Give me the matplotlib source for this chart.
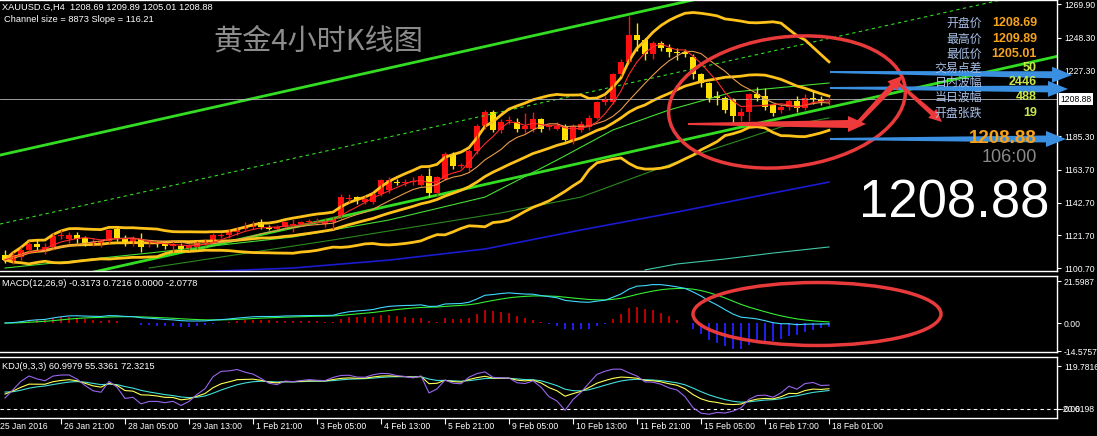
import numpy as np
import pandas as pd
import matplotlib
matplotlib.use("Agg")
import matplotlib.pyplot as plt
from matplotlib.patches import Ellipse, Polygon

plt.rcParams["font.family"] = ["Liberation Sans", "Noto Sans CJK SC", "DejaVu Sans"]

# ── XAUUSD H4 candles ────────────────────────────────────────────────────────
opens = np.array([
    1109, 1105, 1108, 1112, 1116, 1112, 1114, 1121, 1119, 1122,
    1120, 1117, 1116, 1118, 1126, 1120, 1117, 1119, 1116, 1117,
    1116, 1115, 1115, 1113, 1114, 1117, 1117, 1121, 1122, 1124,
    1126, 1127, 1130, 1127, 1126, 1127, 1128, 1129, 1130, 1130,
    1129, 1130, 1134, 1145, 1146, 1143, 1143, 1148, 1151, 1156,
    1155, 1156, 1154, 1160, 1149, 1158, 1173, 1166, 1165, 1176,
    1192, 1201, 1189, 1195, 1194, 1190, 1190, 1196, 1191, 1190,
    1192, 1182, 1189, 1191, 1197, 1207, 1207, 1225, 1233, 1250,
    1247, 1238, 1245, 1242, 1239, 1239, 1236, 1225, 1219, 1211,
    1210, 1209, 1198, 1201, 1212, 1211, 1205, 1202, 1204, 1208,
    1203, 1210, 1209, 1208.69])
highs = np.array([
    1112, 1111, 1114, 1118, 1119, 1117, 1123, 1125, 1124, 1124,
    1121, 1120, 1119, 1126, 1127, 1122, 1121, 1123, 1118, 1118,
    1117, 1118, 1117, 1116, 1118, 1119, 1123, 1123, 1126, 1127,
    1130, 1131, 1132, 1128, 1128, 1131, 1132, 1131, 1132, 1133,
    1133, 1134, 1148, 1148, 1147, 1147, 1149, 1158, 1159, 1158,
    1158, 1159, 1161, 1165, 1160, 1175, 1175, 1168, 1177, 1193,
    1202, 1202, 1196, 1198, 1197, 1200, 1201, 1197, 1193, 1194,
    1193, 1193, 1195, 1199, 1208, 1211, 1226, 1235, 1262, 1258,
    1248, 1246, 1246, 1244, 1242, 1241, 1238, 1226, 1220, 1214,
    1211, 1210, 1203, 1213, 1217, 1216, 1206, 1205, 1209, 1211,
    1212, 1214, 1211, 1209.89])
lows = np.array([
    1104, 1103, 1106, 1111, 1112, 1110, 1112, 1119, 1117, 1117,
    1115, 1115, 1114, 1117, 1118, 1115, 1115, 1111, 1114, 1114,
    1113, 1111, 1111, 1112, 1113, 1115, 1116, 1120, 1120, 1122,
    1125, 1126, 1126, 1125, 1125, 1126, 1124, 1128, 1129, 1128,
    1127, 1126, 1132, 1143, 1142, 1142, 1142, 1147, 1149, 1154,
    1153, 1154, 1153, 1146, 1147, 1157, 1164, 1165, 1163, 1174,
    1190, 1188, 1187, 1193, 1188, 1187, 1188, 1188, 1189, 1189,
    1182, 1180, 1188, 1189, 1196, 1205, 1206, 1224, 1232, 1240,
    1234, 1235, 1240, 1236, 1234, 1236, 1222, 1217, 1207, 1205,
    1200, 1193, 1195, 1195, 1208, 1202, 1198, 1200, 1202, 1201,
    1202, 1206, 1205, 1205.01])
closes = np.array([
    1106, 1109, 1112, 1116, 1114, 1114, 1121, 1122, 1122, 1119,
    1117, 1117.5, 1118, 1125, 1120, 1117, 1120, 1114, 1117, 1116,
    1115, 1116, 1113, 1115, 1117, 1118, 1122, 1122, 1124, 1126,
    1127, 1128, 1127, 1126, 1127, 1130, 1129, 1130, 1130.5, 1131,
    1131, 1133, 1146, 1145.5, 1144, 1145, 1148, 1157, 1157, 1155,
    1156, 1156.5, 1160, 1149, 1159, 1174, 1166, 1167, 1176, 1192,
    1201, 1189, 1194, 1195.5, 1190, 1192, 1196, 1190, 1192, 1192,
    1183, 1192, 1193, 1197, 1207, 1209, 1225, 1233, 1250, 1247,
    1238, 1245, 1242, 1239, 1238.5, 1238, 1225, 1219, 1210, 1210,
    1202, 1198, 1201, 1212, 1210, 1204, 1200, 1204, 1208, 1203,
    1210, 1209, 1208, 1208.88])
last_price = 1208.88

# slow moving averages (their history lies before the window, so read as points)
lime_bars = [0, 18, 36, 48, 60, 69, 76, 83, 91, 103]
lime_vals = [1100.7, 1110.3, 1120.6, 1131.5, 1146.2, 1169.9, 1189.2, 1202.0, 1213.5, 1219.3]
dkgreen_bars = [18, 41, 62, 72, 87, 97, 103]
dkgreen_vals = [1100.7, 1118.7, 1136.0, 1146.2, 1174.4, 1191.1, 1196.9]
blue_bars = [24, 36, 48, 60, 72, 84, 96, 103]
blue_vals = [1098.2, 1100.7, 1105.8, 1112.9, 1125.1, 1136.6, 1148.8, 1155.8]
teal_bars = [80, 84, 90, 96, 103]
teal_vals = [1099.5, 1103.3, 1106.5, 1110.3, 1114.2]

# regression channel: mid value at bar 0, slope per bar, half width
chan_mid0, chan_slope, chan_half = 1129.6, 1.148, 44.2

price_ticks = [1269.90, 1248.30, 1227.30, 1185.30, 1163.70, 1142.70, 1121.70, 1100.70]
time_bars = [7, 15, 23, 31, 39, 47, 55, 63, 71, 79, 87, 95, 103]
time_labels = ["26 Jan 21:00", "28 Jan 05:00", "29 Jan 13:00", "1 Feb 21:00",
               "3 Feb 05:00", "4 Feb 13:00", "5 Feb 21:00", "9 Feb 05:00",
               "10 Feb 13:00", "11 Feb 21:00", "15 Feb 05:00", "16 Feb 17:00",
               "18 Feb 01:00"]

info_labels = ["开盘价", "最高价", "最低价", "交易点差", "日内波幅", "当日波幅", "开盘张跌"]
info_values = ["1208.69", "1209.89", "1205.01", "50", "2446", "488", "19"]

RED = "#ff1010"
YEL = "#ffe000"
GOLD = "#ffc21a"
LIME = "#33dd22"

# ── indicators from the candles ──────────────────────────────────────────────
s = pd.Series(closes)
ma5 = s.rolling(5, min_periods=1).mean()
ma10 = s.rolling(10, min_periods=1).mean()
bb_mid = s.rolling(20, min_periods=1).mean()
bb_sd = s.rolling(20, min_periods=1).std(ddof=0)
macd = s.ewm(span=12, adjust=False).mean() - s.ewm(span=26, adjust=False).mean()
signal = macd.ewm(span=9, adjust=False).mean()
hist = 2 * (macd - signal)

llv = pd.Series(lows).rolling(9, min_periods=1).min()
hhv = pd.Series(highs).rolling(9, min_periods=1).max()
rsv = ((s - llv) / (hhv - llv) * 100).values
K = np.zeros(len(rsv))
D = np.zeros(len(rsv))
k_prev, d_prev = 50.0, 50.0
for i, r in enumerate(rsv):
    k_prev = 2 / 3 * k_prev + r / 3
    d_prev = 2 / 3 * d_prev + k_prev / 3
    K[i], D[i] = k_prev, d_prev
J = 3 * K - 2 * D

# ── figure ───────────────────────────────────────────────────────────────────
W, H = 1097, 436
fig = plt.figure(figsize=(W / 100, H / 100), dpi=100, facecolor="black")
XMIN, XMAX = -0.625, 131.5


def panel(top, bottom):
    a = fig.add_axes([0, 1 - bottom / H, 1057 / W, (bottom - top) / H])
    a.set_facecolor("black")
    a.set_xlim(XMIN, XMAX)
    for side in ("top", "bottom", "right"):
        a.spines[side].set_color("white")
        a.spines[side].set_linewidth(1)
    a.spines["left"].set_visible(False)
    a.yaxis.tick_right()
    a.tick_params(axis="y", colors="white", labelsize=6.2, length=3, width=0.8, pad=2)
    a.set_xticks([])
    return a


ax = panel(0, 271)
am = panel(276, 352)
ak = panel(357, 418)

bars = np.arange(len(closes))

# main panel
ax.set_ylim(1098.8, 1272.5)
xs = np.array([XMIN, XMAX])
ax.plot(xs, chan_mid0 + chan_slope * xs + chan_half, color=LIME, lw=2)
ax.plot(xs, chan_mid0 + chan_slope * xs - chan_half, color=LIME, lw=2)
ax.plot(xs, chan_mid0 + chan_slope * xs, color=LIME, lw=0.8, ls=(0, (3, 3)))
ax.plot(blue_bars, blue_vals, color="#1a1ad0", lw=1.2)
ax.plot(teal_bars, teal_vals, color="#40c8a8", lw=0.8)
ax.plot(dkgreen_bars, dkgreen_vals, color="#2a8a1e", lw=0.8)
ax.plot(lime_bars, lime_vals, color="#44dd33", lw=0.8)
ax.plot(bars, bb_mid + 2 * bb_sd, color=GOLD, lw=2)
ax.plot(bars, bb_mid, color=GOLD, lw=2)
ax.plot(bars, bb_mid - 2 * bb_sd, color=GOLD, lw=2)
ax.axhline(last_price, color="#b8b8b8", lw=0.6)

col = np.where(closes >= opens, RED, YEL)
ax.vlines(bars, lows, highs, colors=col, lw=1)
ax.bar(bars, np.maximum(np.abs(closes - opens), 0.6), bottom=np.minimum(opens, closes),
       width=0.65, color=col, lw=0)
ax.plot(bars, ma10, color="#e89a4a", lw=0.8)
ax.plot(bars, ma5, color="#ff2a2a", lw=0.8)

ax.set_yticks(price_ticks, [f"{p:.2f}" for p in price_ticks])
ax.text(1.003, last_price, f"{last_price:.2f}", transform=ax.get_yaxis_transform(),
        ha="left", va="center", fontsize=6.2, color="black", clip_on=False,
        bbox=dict(boxstyle="square,pad=0.15", fc="white", ec="none"))

# MACD panel
am.set_ylim(-14.9, 24.2)
hcol = np.where(hist >= 0, "#c80000", "#2222ff")
am.vlines(bars, 0, hist, colors=hcol, lw=1.3)
am.plot(bars, signal, color="#33ee33", lw=0.8)
am.plot(bars, macd, color="#40d8ff", lw=0.8)
am.set_yticks([21.5987, 0, -14.5757], ["21.5987", "0.00", "-14.5757"])

# KDJ panel
ak.set_ylim(-25.1, 144.9)
ak.axhline(0, color="white", lw=0.8, ls=(0, (3, 3)))
ak.plot(bars, D, color="#40e0d8", lw=0.8)
ak.plot(bars, K, color="#ffff55", lw=0.8)
ak.plot(bars, J, color="#9966ee", lw=0.8)
ak.set_yticks([119.7816, 0], ["119.7816", "0.00"])
ak.text(1.003, -1.5, "-20.6198", transform=ak.get_yaxis_transform(), ha="left",
        va="center", fontsize=6.2, color="white", clip_on=False)
ak.set_xticks(time_bars)
ak.tick_params(axis="x", colors="white", length=4, width=0.8, labelbottom=False)
for b, lab in zip(time_bars, time_labels):
    ak.text(b + 0.35, -0.06, lab, transform=ak.get_xaxis_transform(), ha="left",
            va="top", fontsize=6.2, color="white", clip_on=False)
ak.text(-1 + 0.35, -0.06, "25 Jan 2016", transform=ak.get_xaxis_transform(),
        ha="left", va="top", fontsize=6.2, color="white", clip_on=False)

# ── text and hand-drawn marks (pixel overlay) ────────────────────────────────
ov = fig.add_axes([0, 0, 1, 1], zorder=10)
ov.set_xlim(0, W)
ov.set_ylim(H, 0)
ov.axis("off")
ov.patch.set_alpha(0)

ov.text(2, 7, "XAUUSD.G,H4  1208.69 1209.89 1205.01 1208.88", color="white",
        fontsize=6.7, va="center")
ov.text(4, 19, "Channel size = 8873 Slope = 116.21", color="white", fontsize=6.7, va="center")
ov.text(2, 283, "MACD(12,26,9) -0.3173 0.7216 0.0000 -2.0778", color="white",
        fontsize=6.7, va="center")
ov.text(2, 366, "KDJ(9,3,3) 60.9979 55.3361 72.3215", color="white", fontsize=6.7, va="center")
ov.text(213, 42, "黄金4小时K线图", color="#8c8c8c", fontsize=21, va="center",
        family=["Noto Sans CJK SC", "DejaVu Sans"])

rows_y = [23, 39, 54, 68, 82, 97, 113]
for k, (lab, val, y) in enumerate(zip(info_labels, info_values, rows_y)):
    ov.text(982, y, lab, color="#a9bfe6", fontsize=8.6, ha="right", va="center",
            family=["Noto Sans CJK SC", "DejaVu Sans"])
    ov.text(1037, y, val, color="#f5a21c" if k < 3 else "#c8e84a", fontsize=9,
            fontweight="bold", ha="right", va="center")
ov.text(1037, 138, "1208.88", color="#f5a21c", fontsize=13.5, fontweight="bold",
        ha="right", va="center")
ov.text(1037, 157, "106:00", color="#8a8a8a", fontsize=13, ha="right", va="center")
ov.text(954, 203, "1208.88", color="white", fontsize=38, ha="center", va="center")


def taper_arrow(x0, y0, x1, y1, w0, w1, hw, hl, color):
    p0, p1 = np.array([x0, y0], float), np.array([x1, y1], float)
    d = (p1 - p0) / np.hypot(*(p1 - p0))
    n = np.array([-d[1], d[0]])
    pb = p1 - d * hl
    pts = [p0 + n * w0, pb + n * w1, pb + n * hw, p1, pb - n * hw, pb - n * w1, p0 - n * w0]
    ov.add_patch(Polygon(pts, closed=True, fc=color, ec="none"))


ov.add_patch(Ellipse((787, 102), 238, 130, angle=-7, fc="none", ec="#e83a3a", lw=2.5))
ov.add_patch(Ellipse((817, 314), 248, 63, angle=0, fc="none", ec="#e83a3a", lw=2.5))

for y0, y1, x1 in [(72, 75, 1072), (88, 89, 1068), (139, 139, 1066)]:
    taper_arrow(830, y0, x1, y1, 1.0, 3.5, 8, 20, "#3a8fe0")

taper_arrow(688, 124, 866, 124, 1.0, 4.0, 8, 18, "#ee3a3a")
taper_arrow(855, 126, 902, 76, 2.0, 3.0, 7, 14, "#ee3a3a")
taper_arrow(897, 82, 942, 122, 1.5, 2.5, 6, 13, "#ee3a3a")

fig.savefig("out.png", dpi=100, facecolor="black")
